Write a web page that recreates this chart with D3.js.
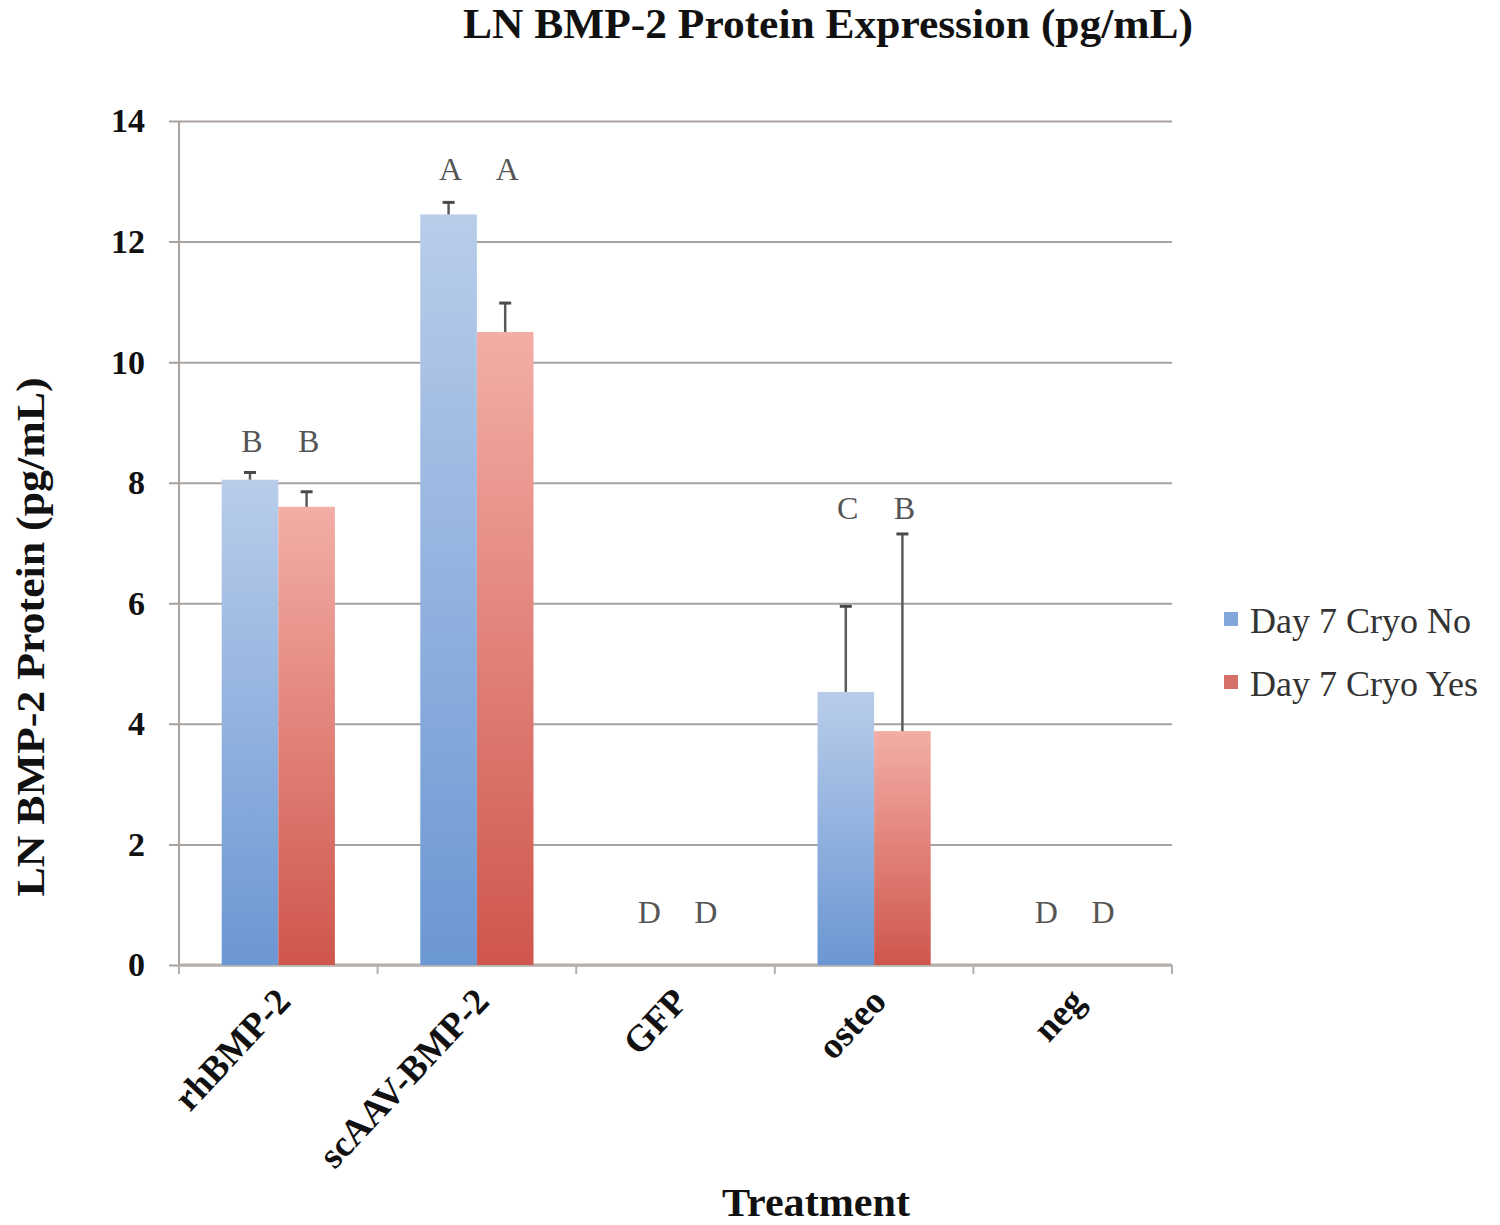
<!DOCTYPE html>
<html>
<head>
<meta charset="utf-8">
<script src="https://cdn.jsdelivr.net/npm/d3@7"></script>
<style>
  body { margin: 0; background: #fff; }
  svg { display: block; }
  .serif { font-family: "Liberation Serif", "DejaVu Serif", serif; }
</style>
</head>
<body>
<svg id="chart" width="1500" height="1225"></svg>
<script>
// data
const treatments = ['rhBMP-2', 'scAAV-BMP-2', 'GFP', 'osteo', 'neg'];
const seriesNames = ['Day 7 Cryo No', 'Day 7 Cryo Yes'];
const cryoNo = [8.05, 12.45, 0, 4.53, 0];
const cryoNoErr = [0.12, 0.2, 0, 1.42, 0];
const cryoYes = [7.6, 10.5, 0, 3.88, 0];
const cryoYesErr = [0.25, 0.48, 0, 3.27, 0];
const lettersNo = ['B', 'A', 'D', 'C', 'D'];
const lettersYes = ['B', 'A', 'D', 'B', 'D'];
const letterAt = [8.7, 13.2, 0.88, 7.58, 0.88];
const yTicks = [0, 2, 4, 6, 8, 10, 12, 14];

const svg = d3.select('#chart');
const margin = {top: 121, left: 179, right: 328, bottom: 260};
const width = 1500, height = 1225;
const innerWidth = width - margin.left - margin.right;
const innerHeight = height - margin.top - margin.bottom;

const rows = treatments.map((t, i) => ({
    key: t,
    letterY: letterAt[i],
    values: [
        {series: seriesNames[0], value: cryoNo[i], err: cryoNoErr[i], letter: lettersNo[i]},
        {series: seriesNames[1], value: cryoYes[i], err: cryoYesErr[i], letter: lettersYes[i]}
    ]
}));

const xScale = d3.scaleBand().domain(treatments).range([0, innerWidth])
    .paddingInner(0.43).paddingOuter(0.215);
const x1 = d3.scaleBand().domain(seriesNames).range([0, xScale.bandwidth()]);
const yScale = d3.scaleLinear().domain([0, 14]).range([innerHeight, 0]);

const colorTop = d3.scaleOrdinal().domain(seriesNames).range(['#b9cdea', '#f3aea6']);
const colorBottom = d3.scaleOrdinal().domain(seriesNames).range(['#6b97d3', '#cf564c']);

const defs = svg.append('defs');
seriesNames.forEach((s, i) => {
    const grad = defs.append('linearGradient')
        .attr('id', 'grad' + i)
        .attr('x1', 0).attr('y1', 0).attr('x2', 0).attr('y2', 1);
    grad.append('stop').attr('offset', '0%').attr('stop-color', colorTop(s));
    grad.append('stop').attr('offset', '100%').attr('stop-color', colorBottom(s));
});

const g = svg.append('g')
    .attr('transform', `translate(${margin.left},${margin.top})`);

// gridlines + y axis
const yAxis = d3.axisLeft(yScale)
    .tickValues(yTicks)
    .tickSize(-innerWidth)
    .tickPadding(34)
    .tickFormat(d3.format('d'));

const yAxisG = g.append('g').attr('class', 'yAxis').call(yAxis);
yAxisG.select('.domain').remove();
yAxisG.selectAll('.tick line')
    .attr('x1', -10)
    .attr('stroke', '#a9a29e')
    .attr('stroke-width', 2);
yAxisG.selectAll('.tick text')
    .attr('class', 'serif')
    .style('font-size', '34px')
    .style('font-weight', 'bold')
    .attr('fill', '#111');

g.append('line')
    .attr('x1', 0).attr('x2', 0)
    .attr('y1', 0).attr('y2', innerHeight)
    .attr('stroke', '#a9a29e')
    .attr('stroke-width', 2);

// x axis with ticks at band edges
const xAxisG = g.append('g').attr('class', 'xAxis')
    .attr('transform', `translate(0,${innerHeight})`);
xAxisG.append('line')
    .attr('x1', 0).attr('x2', innerWidth)
    .attr('stroke', '#b5afab').attr('stroke-width', 3);
const edges = d3.range(treatments.length + 1).map(i => i * innerWidth / treatments.length);
xAxisG.selectAll('.edge').data(edges).enter().append('line')
    .attr('class', 'edge')
    .attr('x1', d => d).attr('x2', d => d)
    .attr('y1', 0).attr('y2', 9)
    .attr('stroke', '#b5afab').attr('stroke-width', 2);

xAxisG.selectAll('.xlabel').data(treatments).enter().append('text')
    .attr('class', 'xlabel serif')
    .attr('text-anchor', 'end')
    .attr('transform', d => `translate(${xScale(d) + xScale.bandwidth() / 2 + 14},${38}) rotate(-47)`)
    .style('font-size', '37px')
    .style('font-weight', 'bold')
    .attr('fill', '#111')
    .text(d => d);

// bars
const groups = g.selectAll('.group').data(rows).enter().append('g')
    .attr('class', 'group')
    .attr('transform', d => `translate(${xScale(d.key)},0)`);

groups.selectAll('.bar').data(d => d.values).enter().append('rect')
    .attr('class', 'bar')
    .attr('x', d => x1(d.series))
    .attr('width', x1.bandwidth())
    .attr('y', d => yScale(d.value))
    .attr('height', d => innerHeight - yScale(d.value))
    .attr('fill', (d, i) => `url(#grad${i})`);

// error bars (upper only)
const errs = groups.selectAll('.err').data(d => d.values.filter(v => v.err > 0)).enter().append('g')
    .attr('class', 'err');
errs.append('line')
    .attr('x1', d => x1(d.series) + x1.bandwidth() / 2)
    .attr('x2', d => x1(d.series) + x1.bandwidth() / 2)
    .attr('y1', d => yScale(d.value))
    .attr('y2', d => yScale(d.value + d.err))
    .attr('stroke', '#5a5a5a').attr('stroke-width', 2.5);
errs.append('line')
    .attr('x1', d => x1(d.series) + x1.bandwidth() / 2 - 6)
    .attr('x2', d => x1(d.series) + x1.bandwidth() / 2 + 6)
    .attr('y1', d => yScale(d.value + d.err))
    .attr('y2', d => yScale(d.value + d.err))
    .attr('stroke', '#4a4a4a').attr('stroke-width', 3);

// significance letters
groups.selectAll('.letter').data(d => d.values.map(v => ({...v, at: d.letterY}))).enter().append('text')
    .attr('class', 'letter serif')
    .attr('x', d => x1(d.series) + x1.bandwidth() / 2 + 2)
    .attr('y', d => yScale(d.at))
    .attr('dy', '0.35em')
    .attr('text-anchor', 'middle')
    .style('font-size', '32px')
    .attr('fill', '#555')
    .text(d => d.letter);

// titles
svg.append('text')
    .attr('class', 'serif')
    .attr('x', 828).attr('y', 38)
    .attr('text-anchor', 'middle')
    .attr('textLength', 730)
    .attr('lengthAdjust', 'spacingAndGlyphs')
    .style('font-size', '42px')
    .style('font-weight', 'bold')
    .attr('fill', '#111')
    .text('LN BMP-2 Protein Expression (pg/mL)');

svg.append('text')
    .attr('class', 'serif')
    .attr('transform', `translate(44,${637}) rotate(-90)`)
    .attr('text-anchor', 'middle')
    .attr('textLength', 519)
    .attr('lengthAdjust', 'spacingAndGlyphs')
    .style('font-size', '39px')
    .style('font-weight', 'bold')
    .attr('fill', '#111')
    .text('LN BMP-2 Protein (pg/mL)');

svg.append('text')
    .attr('class', 'serif')
    .attr('x', 816).attr('y', 1216)
    .attr('text-anchor', 'middle')
    .attr('textLength', 188)
    .attr('lengthAdjust', 'spacingAndGlyphs')
    .style('font-size', '40px')
    .style('font-weight', 'bold')
    .attr('fill', '#111')
    .text('Treatment');

// legend
const legend = svg.append('g').attr('transform', 'translate(1224,620)');
const legendItems = legend.selectAll('.leg').data(seriesNames).enter().append('g')
    .attr('class', 'leg')
    .attr('transform', (d, i) => `translate(0,${i * 63})`);
legendItems.append('rect')
    .attr('x', 0).attr('y', -8)
    .attr('width', 14).attr('height', 14)
    .attr('fill', d => colorBottom(d))
    .attr('opacity', 0.85);
legendItems.append('text')
    .attr('class', 'serif')
    .attr('x', 26).attr('y', 0)
    .attr('dy', '0.35em')
    .style('font-size', '36px')
    .attr('fill', '#333')
    .text(d => d);
</script>
</body>
</html>
